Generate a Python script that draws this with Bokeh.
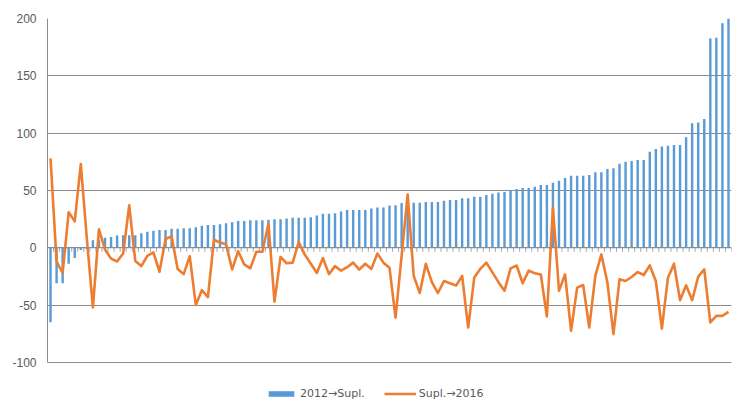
import numpy as np
from bokeh.plotting import figure
from bokeh.models import Range1d, FixedTicker, LinearAxis, Legend, LegendItem, Span
from bokeh.embed import file_html
from bokeh.resources import INLINE

# ---- data ----
bar_name = "2012→Supl."
line_name = "Supl.→2016"

bar_values = [
    -65, -31, -31, -14, -9, -2, -1, 6.6, 7, 8.8,
    9.4, 10.6, 11, 11, 11, 12.7, 13.9, 14.8, 15.5, 15.5,
    16.5, 16.5, 17.1, 17.1, 17.8, 19.3, 19.9, 19.9, 20.4, 21.3,
    22.2, 23.3, 23.3, 23.9, 23.9, 23.9, 24.5, 24.8, 24.8, 25.5,
    26.1, 26.1, 26.1, 26.7, 28.1, 29.6, 29.6, 30.1, 31.6, 33,
    33, 33, 33, 34.2, 35.1, 35.1, 36.8, 37.1, 39.1, 39.3,
    39.3, 39.3, 40, 40, 40, 41.1, 41.7, 41.7, 43.2, 43.2,
    44.6, 44.6, 46.1, 47.2, 48.1, 48.7, 50.4, 51.3, 52.1, 52.1,
    53.3, 54.8, 54.8, 56.8, 58.5, 60.8, 62.8, 62.8, 62.8, 63.4,
    65.8, 65.8, 68.7, 69.3, 73.3, 75, 75.6, 76.5, 76.5, 83.7,
    86.1, 88.4, 89, 89.6, 89.6, 96.5, 108.7, 109.3, 112.4, 182.6,
    183.2, 195.9, 200,
]

line_values = [
    78, -12, -22, 31, 23, 73, 8, -52, 16, -1.5,
    -9.5, -12, -5, 37, -11.5, -16, -7, -4, -21, 7.5,
    10, -18.5, -23, -7.3, -50, -37, -43, 7, 4.5, 3,
    -19, -3, -14.5, -18, -3.5, -3.5, 21, -47, -8, -13.5,
    -13, 5, -6, -14, -22, -9, -23, -16, -20, -17,
    -13, -19, -14, -18.5, -5, -13, -17.5, -61, -7, 46.5,
    -24.5, -39.5, -14, -30, -39.5, -29, -31, -33, -24.6, -69.6,
    -26, -18.5, -13, -21.5, -30, -37.5, -18, -15.5, -31, -20,
    -22.3, -23.3, -60, 34.8, -37.5, -23.2, -72.4, -34.8, -32.5, -69.6,
    -24.6, -5.8, -30.4, -75.4, -27.5, -29, -25.5, -21.2, -23.8, -15.4,
    -29, -70.6, -26.1, -13.9, -45.8, -32.8, -45.8, -25.2, -18.9, -65.2,
    -59.4, -59.4, -56,
]

y_ticks = [-100, -50, 0, 50, 100, 150, 200]
y_tick_labels = ["-100", "-50", "0", "50", "100", "150", "200"]

n = len(bar_values)
categories = np.arange(n)
centers = categories + 0.5
boundaries = np.arange(n + 1)

FONT = "Liberation Sans"
LEGEND_FONT = "DejaVu Sans"
TEXT = "#595959"
GRID = "#8c8c8c"

# the frame runs down to the figure bottom so the legend can sit under the -100 line
y_bottom = -135  # extra room below -100 for the legend (no ticks/grid there)

p = figure(
    width=734, height=402,
    output_backend="svg", toolbar_location=None,
    x_range=Range1d(0, n), y_range=Range1d(y_bottom, y_ticks[-1]),
    x_axis_location=None, y_axis_location=None,
    min_border_left=47, min_border_right=3,
    min_border_top=18, min_border_bottom=0,
)
p.outline_line_color = None
p.background_fill_color = "white"
p.border_fill_color = "white"

# value axis on the left (line only between -100 and 200)
yaxis = LinearAxis(ticker=FixedTicker(ticks=y_ticks), bounds=(y_ticks[0], y_ticks[-1]))
yaxis.major_tick_out = 0
yaxis.major_tick_in = 0
yaxis.minor_tick_out = 0
yaxis.minor_tick_in = 0
yaxis.axis_line_color = GRID
yaxis.major_label_standoff = 11
yaxis.major_label_text_font = FONT
yaxis.major_label_text_font_size = "12px"
yaxis.major_label_text_color = TEXT
yaxis.major_label_overrides = dict(zip(y_ticks, y_tick_labels))
p.add_layout(yaxis, "left")

# horizontal gridlines
p.ygrid.ticker = FixedTicker(ticks=y_ticks)
p.ygrid.grid_line_color = GRID
p.ygrid.grid_line_width = 1
p.xgrid.grid_line_color = None

# category axis crossing at zero: line + small tick marks at category boundaries
tick_len = 3.5  # in value units (about 4 px)
p.segment(x0=boundaries, y0=np.zeros(n + 1), x1=boundaries, y1=np.full(n + 1, -tick_len),
          line_color="#a6a6a6", line_width=1)
p.add_layout(Span(location=0, dimension="width", line_color=GRID, line_width=1))

bars = p.vbar(x=centers, top=bar_values, bottom=0, width=0.4,
              fill_color="#5B9BD5", line_color=None)
line = p.line(x=centers, y=line_values, line_color="#ED7D31",
              line_width=2.6, line_join="round")

legend = Legend(
    items=[LegendItem(label=bar_name, renderers=[bars]),
           LegendItem(label=line_name, renderers=[line])],
    orientation="horizontal",
    location=(218, 2),
    glyph_width=32, glyph_height=7,
    label_standoff=3, spacing=19,
    label_text_font=LEGEND_FONT, label_text_font_size="11px",
    label_text_color=TEXT, label_height=14,
    padding=0, margin=0,
    border_line_color=None, background_fill_alpha=0,
)
p.add_layout(legend, "center")

open("out.html", "w").write(file_html(p, INLINE))
